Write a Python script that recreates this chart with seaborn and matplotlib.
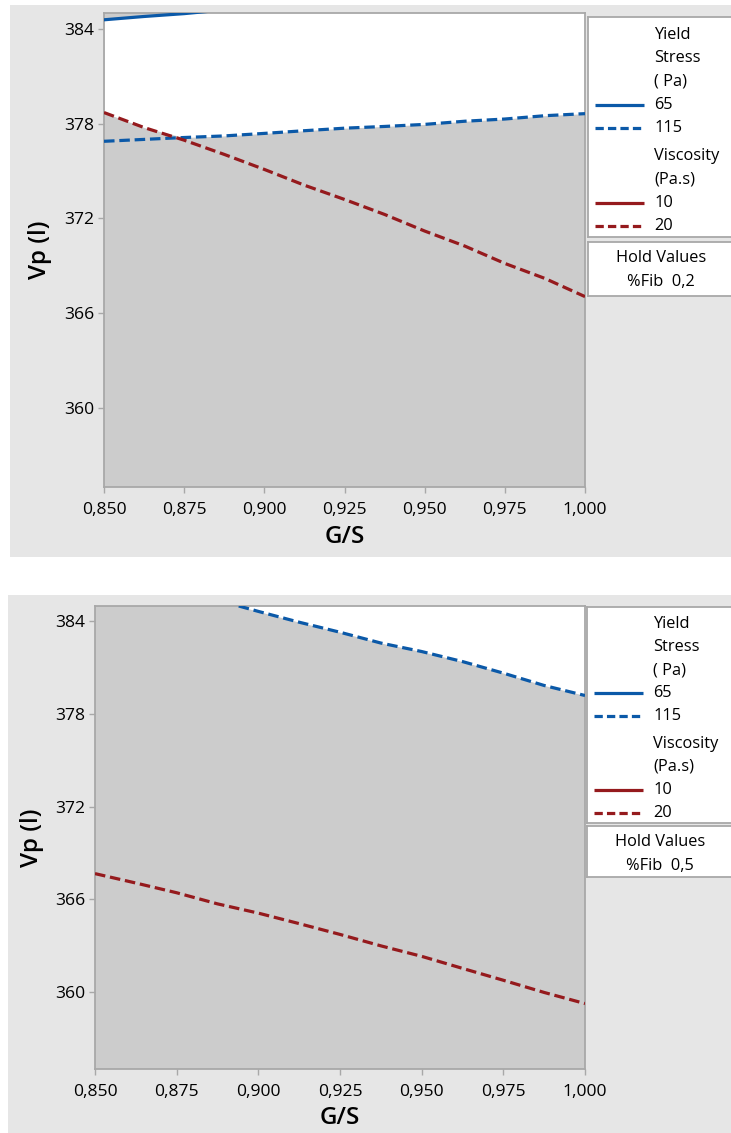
import numpy as np
import pandas as pd
import matplotlib
matplotlib.use("Agg")
import matplotlib.pyplot as plt
import seaborn as sns
from matplotlib.patches import Rectangle
from matplotlib.ticker import FixedLocator, FuncFormatter

# ---------------------------------------------------------------- data
gs_grid = [0.850, 0.8625, 0.875, 0.8875, 0.900, 0.9125, 0.925,
           0.9375, 0.950, 0.9625, 0.975, 0.9875, 1.000]

# Hold value %Fib = 0,2
fib02_ys65_gs = [0.850, 0.8625, 0.875, 0.8875]
fib02_ys65_vp = [384.57, 384.78, 384.96, 385.20]
fib02_ys115_vp = [376.88, 377.00, 377.12, 377.22, 377.38, 377.55, 377.71,
                  377.82, 377.95, 378.15, 378.29, 378.50, 378.63]
fib02_visc20_vp = [378.70, 377.75, 376.95, 376.05, 375.10, 374.10, 373.20,
                   372.25, 371.20, 370.25, 369.15, 368.20, 367.05]

# Hold value %Fib = 0,5
fib05_ys115_gs = [0.894, 0.900, 0.9125, 0.925, 0.9375, 0.950, 0.9625,
                  0.975, 0.9875, 1.000]
fib05_ys115_vp = [385.00, 384.65, 383.95, 383.30, 382.60, 382.05, 381.40,
                  380.65, 379.85, 379.20]
fib05_visc20_vp = [367.66, 367.05, 366.42, 365.70, 365.10, 364.42, 363.72,
                   362.98, 362.30, 361.52, 360.75, 359.96, 359.24]

x_ticks = [0.850, 0.875, 0.900, 0.925, 0.950, 0.975, 1.000]
y_ticks = [360, 366, 372, 378, 384]
y_range = (355, 385)
x_label = "G/S"
y_label = "Vp (l)"
legend_groups = [("Yield\nStress\n( Pa)", ["65", "115"]),
                 ("Viscosity\n(Pa.s)", ["10", "20"])]
hold_labels = ["%Fib  0,2", "%Fib  0,5"]

# ---------------------------------------------------------------- style
sns.set_theme(style="white")
plt.rcParams["font.family"] = ["Open Sans", "DejaVu Sans"]

BLUE = "#0B59A8"
RED = "#951A1D"
PANEL_BG = "#E6E6E6"
REGION_GREY = "#CCCCCC"
EDGE = "#A8A8A8"
TXT = "#000000"
LW = 2.3
DASH = (0, (3.3, 1.5))

W, H = 731, 1133
fig = plt.figure(figsize=(W / 100, H / 100), dpi=100, facecolor="white")


def box(x0, y0, x1, y1):
    return [x0 / W, 1 - y1 / H, (x1 - x0) / W, (y1 - y0) / H]


def comma(v, _pos=None):
    return f"{v:.3f}".replace(".", ",")


def draw_panel(bg, ax_px, leg_px, hold_px, hold_text, ylab_x, xlab_y,
               white_region, grey_caps, lines):
    x0, y0, x1, y1 = bg
    fig.patches.append(Rectangle((x0 / W, 1 - y1 / H), (x1 - x0) / W,
                                 (y1 - y0) / H, transform=fig.transFigure,
                                 facecolor=PANEL_BG, edgecolor="none",
                                 zorder=-10))
    ax = fig.add_axes(box(*ax_px))
    ax.set_facecolor(REGION_GREY)

    # feasible region in white, constrained part in grey
    for gx, lo in white_region:
        ax.fill_between(gx, lo, y_range[1] + 1, color="white", lw=0,
                        zorder=1)
    for gx, lo in grey_caps:
        ax.fill_between(gx, lo, y_range[1] + 1, color=REGION_GREY, lw=0,
                        zorder=1.5)

    for gx, vp, col, ls in lines:
        df = pd.DataFrame({"G/S": gx, "Vp": vp})
        sns.lineplot(data=df, x="G/S", y="Vp", ax=ax, color=col,
                     linewidth=LW, linestyle=ls, legend=False, zorder=3)

    ax.set_xlim(0.850, 1.000)
    ax.set_ylim(*y_range)
    ax.xaxis.set_major_locator(FixedLocator(x_ticks))
    ax.xaxis.set_major_formatter(FuncFormatter(comma))
    ax.yaxis.set_major_locator(FixedLocator(y_ticks))
    ax.tick_params(axis="both", which="major", direction="out", length=4,
                   width=1, color=EDGE, labelsize=12.6, labelcolor=TXT,
                   left=True, bottom=True)
    ax.tick_params(axis="x", pad=7)
    ax.tick_params(axis="y", pad=3)
    for s in ax.spines.values():
        s.set_color(EDGE)
        s.set_linewidth(1.3)
    ax.set_xlabel("")
    ax.set_ylabel("")
    fig.text(((ax_px[0] + ax_px[2]) / 2) / W, 1 - xlab_y / H, x_label,
             ha="center", va="center", fontsize=17.5, color=TXT,
             fontweight="semibold")
    fig.text(ylab_x / W, 1 - ((ax_px[1] + ax_px[3]) / 2) / H, y_label,
             ha="center", va="center", rotation=90, fontsize=17.5,
             color=TXT, fontweight="semibold")

    # legend box
    lx0, ly0, lx1, ly1 = leg_px
    lax = fig.add_axes(box(*leg_px))
    lax.set_xlim(lx0, lx1)
    lax.set_ylim(ly1, ly0)
    lax.set_facecolor("white")
    lax.set_xticks([])
    lax.set_yticks([])
    for s in lax.spines.values():
        s.set_color(EDGE)
        s.set_linewidth(1.3)
    step = (ly1 - ly0) / 9.4
    yy = ly0 + step * 0.75
    colors = [BLUE, RED]
    for (title, items), col in zip(legend_groups, colors):
        for t in title.split("\n"):
            lax.text(lx0 + 66, yy, t, ha="left", va="center", fontsize=11.8,
                     color=TXT)
            yy += step
        for item, ls in zip(items, ["-", (0, (2.6, 1.3))]):
            lax.plot([lx0 + 7, lx0 + 56], [yy, yy], color=col, lw=LW,
                     linestyle=ls, solid_capstyle="butt",
                     dash_capstyle="butt")
            lax.text(lx0 + 66, yy, item, ha="left", va="center",
                     fontsize=11.8, color=TXT)
            yy += step
        yy += step * 0.2

    hx0, hy0, hx1, hy1 = hold_px
    hax = fig.add_axes(box(*hold_px))
    hax.set_xlim(hx0, hx1)
    hax.set_ylim(hy1, hy0)
    hax.set_facecolor("white")
    hax.set_xticks([])
    hax.set_yticks([])
    for s in hax.spines.values():
        s.set_color(EDGE)
        s.set_linewidth(1.3)
    hax.text(hx0 + 73, hy0 + 16, "Hold Values", ha="center", va="center",
             fontsize=11.8, color=TXT)
    hax.text(hx0 + 73, hy0 + 40, hold_text, ha="center", va="center",
             fontsize=11.8, color=TXT)
    return ax


# panel with %Fib = 0,2
draw_panel(bg=(10, 5, 731, 557), ax_px=(104, 13, 585, 487),
           leg_px=(588, 17, 733, 237), hold_px=(588, 242, 733, 296),
           hold_text=hold_labels[0], ylab_x=40, xlab_y=537,
           white_region=[(gs_grid, np.maximum(fib02_ys115_vp,
                                              fib02_visc20_vp))],
           grey_caps=[(fib02_ys65_gs, fib02_ys65_vp)],
           lines=[(fib02_ys65_gs, fib02_ys65_vp, BLUE, "-"),
                  (gs_grid, fib02_ys115_vp, BLUE, DASH),
                  (gs_grid, fib02_visc20_vp, RED, DASH)])

# panel with %Fib = 0,5
draw_panel(bg=(8, 595, 731, 1133), ax_px=(95, 606, 585, 1069),
           leg_px=(587, 607, 733, 823), hold_px=(587, 826, 733, 877),
           hold_text=hold_labels[1], ylab_x=32, xlab_y=1118,
           white_region=[(fib05_ys115_gs, fib05_ys115_vp)],
           grey_caps=[],
           lines=[(fib05_ys115_gs, fib05_ys115_vp, BLUE, DASH),
                  (gs_grid, fib05_visc20_vp, RED, DASH)])

fig.savefig("out.png", dpi=100, facecolor="white")
